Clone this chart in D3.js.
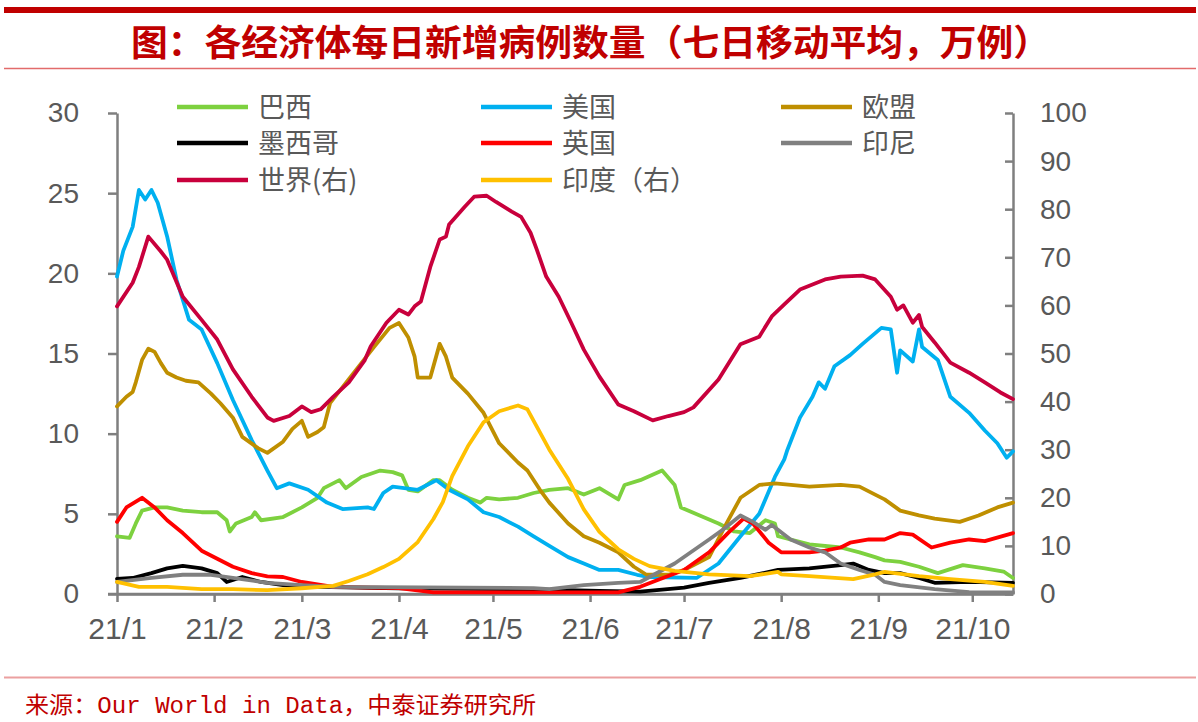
<!DOCTYPE html>
<html>
<head>
<meta charset="utf-8">
<script src="https://cdn.jsdelivr.net/npm/d3@7"></script>
<style>
  html, body { margin: 0; padding: 0; background: #ffffff; }
  svg { display: block; }
</style>
</head>
<body>
<svg id="chart" width="1198" height="722"></svg>
<script>
// ---------- DATA (day = days after 2021-01-01; values in 万例) ----------
const titleText = "图：各经济体每日新增病例数量（七日移动平均，万例）";
const sourceText = "来源：Our World in Data，中泰证券研究所";
const monthTicks = ["2021-01-01","2021-02-01","2021-03-01","2021-04-01","2021-05-01","2021-06-01","2021-07-01","2021-08-01","2021-09-01","2021-10-01"];
const monthLabels = ["21/1","21/2","21/3","21/4","21/5","21/6","21/7","21/8","21/9","21/10"];
const leftTicks = [0, 5, 10, 15, 20, 25, 30];
const rightTicks = [0, 10, 20, 30, 40, 50, 60, 70, 80, 90, 100];

const brazil = [[0,3.6],[4,3.5],[6,4.4],[8,5.2],[12,5.4],[16,5.4],[21,5.2],[27,5.1],[32,5.1],[35,4.6],[36,3.9],[38,4.4],[43,4.8],[44,5.1],[46,4.6],[53,4.8],[59,5.4],[64,6.0],[66,6.6],[71,7.1],[73,6.6],[78,7.3],[84,7.7],[88,7.6],[91,7.4],[93,6.5],[96,6.4],[101,7.1],[103,7.1],[107,6.5],[112,6.0],[116,5.7],[118,6.0],[122,5.9],[128,6.0],[133,6.3],[138,6.5],[144,6.6],[149,6.2],[154,6.6],[160,5.9],[162,6.8],[167,7.1],[174,7.7],[178,6.8],[180,5.4],[186,4.9],[192,4.4],[197,3.9],[202,3.8],[207,4.6],[210,4.4],[211,3.6],[221,3.1],[231,2.9],[237,2.6],[242,2.3],[245,2.1],[250,2.0],[256,1.7],[262,1.3],[270,1.8],[277,1.6],[283,1.4],[286,1.0]];
const usa = [[0,19.8],[2,21.4],[5,22.9],[7,25.2],[9,24.6],[11,25.2],[13,24.4],[16,22.3],[19,19.6],[23,17.1],[27,16.5],[32,14.4],[37,12.1],[43,9.6],[48,7.7],[51,6.6],[55,6.9],[61,6.5],[67,5.7],[72,5.3],[80,5.4],[82,5.3],[85,6.3],[88,6.7],[96,6.5],[102,7.1],[106,6.5],[112,5.9],[117,5.1],[122,4.8],[128,4.2],[133,3.6],[138,3.0],[144,2.3],[149,1.9],[154,1.5],[160,1.5],[166,1.2],[170,1.06],[185,1.0],[192,1.9],[199,3.6],[205,5.0],[210,7.3],[213,8.4],[214,9.0],[218,11.0],[222,12.3],[224,13.2],[226,12.8],[229,14.2],[234,14.9],[238,15.6],[244,16.6],[247,16.5],[249,13.8],[250,15.2],[254,14.5],[256,16.5],[257,15.4],[262,14.6],[266,12.3],[272,11.3],[277,10.2],[281,9.4],[284,8.5],[286,8.9]];
const eu = [[0,11.7],[3,12.3],[5,12.6],[6,13.2],[8,14.6],[10,15.3],[12,15.1],[14,14.4],[16,13.8],[19,13.5],[22,13.3],[26,13.2],[30,12.5],[33,11.9],[37,11.0],[40,9.8],[45,9.1],[48,8.8],[53,9.5],[56,10.3],[59,10.8],[61,9.8],[64,10.1],[66,10.4],[68,11.9],[72,12.9],[78,14.4],[82,15.4],[87,16.6],[90,16.9],[93,16.0],[95,14.8],[96,13.5],[100,13.5],[103,15.6],[105,14.8],[107,13.5],[112,12.5],[117,11.3],[122,9.4],[128,8.2],[131,7.7],[135,6.5],[138,5.7],[144,4.4],[149,3.6],[154,3.2],[160,2.6],[165,1.7],[169,1.2],[176,1.2],[181,1.5],[189,2.3],[194,4.2],[199,6.0],[205,6.8],[210,6.9],[221,6.7],[231,6.8],[237,6.7],[242,6.2],[245,5.9],[250,5.2],[256,4.9],[261,4.7],[269,4.5],[275,4.9],[281,5.4],[286,5.7]];
const mexico = [[0,0.94],[5,1.0],[11,1.3],[16,1.6],[21,1.75],[27,1.6],[32,1.3],[35,0.75],[40,1.06],[46,0.75],[53,0.56],[64,0.44],[90,0.35],[130,0.3],[154,0.2],[167,0.15],[181,0.4],[189,0.7],[199,1.0],[211,1.5],[221,1.6],[231,1.8],[235,1.9],[240,1.5],[245,1.3],[250,1.3],[256,1.0],[261,0.7],[272,0.75],[286,0.7]];
const uk = [[0,4.5],[3,5.4],[8,6.0],[12,5.4],[16,4.6],[21,3.8],[27,2.7],[32,2.2],[37,1.7],[43,1.3],[48,1.1],[53,1.06],[59,0.75],[69,0.44],[90,0.37],[101,0.1],[160,0.1],[167,0.45],[173,0.9],[181,1.5],[189,2.6],[195,3.8],[200,4.7],[203,4.4],[208,3.2],[212,2.6],[221,2.6],[226,2.7],[231,2.9],[234,3.2],[240,3.4],[245,3.4],[250,3.8],[254,3.7],[260,2.9],[266,3.2],[272,3.4],[277,3.3],[286,3.8]];
const indonesia = [[0,0.75],[11,1.0],[21,1.2],[30,1.2],[37,1.0],[48,0.7],[59,0.56],[69,0.44],[133,0.37],[138,0.3],[149,0.56],[160,0.7],[167,0.75],[178,1.9],[189,3.4],[194,4.1],[199,4.9],[203,4.5],[207,4.0],[209,4.3],[215,3.4],[221,2.9],[226,2.6],[231,1.9],[237,1.5],[242,1.2],[245,0.75],[250,0.56],[261,0.3],[272,0.12],[286,0.1]];
const world = [[0,59.8],[5,64.7],[7,68],[10,74.3],[14,71.2],[16,69.5],[21,61.8],[27,57],[32,52.9],[37,46.7],[43,41],[48,36.7],[50,36],[55,37],[59,39],[62,37.8],[65,38.4],[69,41],[74,44],[79,48.5],[81,51.5],[86,56.4],[90,59.1],[93,58.1],[95,59.8],[97,60.8],[100,68],[103,73.7],[105,74.3],[106,76.8],[111,80.5],[114,82.6],[118,82.8],[121,81.5],[126,79.5],[129,78.4],[132,75.1],[134,71.6],[137,66],[141,61.8],[145,56.4],[149,50.8],[154,45.2],[160,39.4],[165,38],[171,36.1],[176,37],[181,37.8],[184,38.8],[192,44.6],[199,51.9],[205,53.5],[209,57.7],[213,60.2],[218,63.3],[226,65.4],[231,66],[238,66.2],[242,65.4],[247,61.8],[249,59.1],[251,60],[254,56.4],[256,58],[257,55.5],[261,52.3],[266,48.1],[272,46],[277,44],[282,41.9],[286,40.5]];
const india = [[0,2.5],[7,1.5],[16,1.5],[27,1.0],[37,1.0],[48,0.8],[59,1.2],[69,1.7],[74,2.7],[80,4.1],[85,5.6],[90,7.3],[96,10.8],[101,15.6],[104,19.1],[107,24.5],[112,30.7],[117,35.7],[122,38],[128,39.2],[131,38.4],[135,33.6],[138,30],[144,23.9],[149,17.6],[154,12.9],[160,9.3],[165,7.3],[170,5.8],[178,4.8],[189,4.1],[202,3.7],[211,4.6],[212,4.1],[221,3.7],[235,3.1],[242,4.1],[245,4.6],[256,3.7],[266,3.1],[277,2.5],[286,1.7]];

const seriesNames = ["巴西","美国","欧盟","墨西哥","英国","印尼","世界(右)","印度（右）"];
const seriesData = [brazil, usa, eu, mexico, uk, indonesia, world, india];
const seriesAxis = ["left","left","left","left","left","left","right","right"];
const seriesColors = ["#7DD13F","#00B0F0","#BF8F00","#000000","#FF0000","#808080","#C8003C","#FFC000"];

// ---------- LAYOUT ----------
const svg = d3.select("#chart");
const W = 1198, H = 722;
const plot = { left: 117, right: 1013, top: 113, bottom: 594 };
const start = new Date(2021, 0, 1);
const dayToDate = d => d3.timeDay.offset(start, d);

const x = d3.scaleTime().domain([start, new Date(2021, 9, 14)]).range([plot.left, plot.right]);
const yL = d3.scaleLinear().domain([0, 30]).range([plot.bottom, plot.top]);
const yR = d3.scaleLinear().domain([0, 100]).range([plot.bottom, plot.top]);

svg.append("rect").attr("width", W).attr("height", H).attr("fill", "#ffffff");

// header / footer rules
svg.append("rect").attr("x", 4).attr("y", 7).attr("width", W - 6).attr("height", 6).attr("fill", "#C00000");
svg.append("line").attr("x1", 4).attr("x2", W - 2).attr("y1", 68.5).attr("y2", 68.5).attr("stroke", "#E26B6B").attr("stroke-width", 1.5);
svg.append("line").attr("x1", 4).attr("x2", W - 2).attr("y1", 677.5).attr("y2", 677.5).attr("stroke", "#EBA0A0").attr("stroke-width", 2);

svg.append("text")
  .attr("x", 131).attr("y", 56)
  .attr("font-family", "'Noto Sans CJK SC', sans-serif")
  .attr("font-weight", 700)
  .attr("font-size", 36)
  .attr("fill", "#C00000")
  .attr("textLength", 919).attr("lengthAdjust", "spacingAndGlyphs")
  .text(titleText);

svg.append("text")
  .attr("x", 25).attr("y", 713)
  .attr("font-family", "'Liberation Mono', 'Noto Sans CJK SC', monospace")
  .attr("font-size", 23)
  .attr("fill", "#C00000")
  .attr("textLength", 511).attr("lengthAdjust", "spacingAndGlyphs")
  .text(sourceText);

// ---------- AXES ----------
const axisColor = "#7F7F7F";
const labelColor = "#595959";

function styleAxis(g, fontSize) {
  g.selectAll("path.domain").attr("stroke", axisColor).attr("stroke-width", 2.5);
  g.selectAll(".tick line").attr("stroke", axisColor).attr("stroke-width", 2.5);
  g.selectAll(".tick text").attr("fill", labelColor)
    .attr("font-family", "'Liberation Sans', Arial, sans-serif")
    .attr("font-size", fontSize);
}

const gL = svg.append("g").attr("transform", `translate(${plot.left},0)`)
  .call(d3.axisLeft(yL).tickValues(leftTicks).tickSize(9).tickSizeOuter(0).tickPadding(29).tickFormat(d3.format("d")));
styleAxis(gL, 28);

const gR = svg.append("g").attr("transform", `translate(${plot.right},0)`)
  .call(d3.axisRight(yR).tickValues(rightTicks).tickSize(-8).tickSizeOuter(0).tickPadding(27).tickFormat(d3.format("d")));
styleAxis(gR, 28);

const tickDates = monthTicks.map(s => d3.timeParse("%Y-%m-%d")(s));
const gX = svg.append("g").attr("transform", `translate(0,${plot.bottom})`)
  .call(d3.axisBottom(x).tickValues(tickDates).tickSize(8).tickSizeOuter(0).tickPadding(16)
    .tickFormat((d, i) => monthLabels[i]));
styleAxis(gX, 30);
svg.append("line").attr("x1", plot.left - 9).attr("x2", plot.right).attr("y1", plot.bottom).attr("y2", plot.bottom)
  .attr("stroke", axisColor).attr("stroke-width", 2.5);

// ---------- LINES ----------
const lines = svg.append("g");
seriesData.forEach((data, i) => {
  const yy = seriesAxis[i] === "left" ? yL : yR;
  const gen = d3.line().x(d => x(dayToDate(d[0]))).y(d => yy(d[1])).curve(d3.curveLinear);
  lines.append("path")
    .datum(data)
    .attr("d", gen)
    .attr("fill", "none")
    .attr("stroke", seriesColors[i])
    .attr("stroke-width", 3.8)
    .attr("stroke-linejoin", "round")
    .attr("stroke-linecap", "round");
});

// ---------- LEGEND ----------
const legendCols = [177, 481, 781];
const legendRows = [107, 143, 180];
const legendOrder = [[0,1,2],[3,4,5],[6,7]];
const legend = svg.append("g");
legendOrder.forEach((row, r) => {
  row.forEach((si, c) => {
    const lx = legendCols[c], ly = legendRows[r];
    legend.append("line").attr("x1", lx).attr("x2", lx + 71).attr("y1", ly).attr("y2", ly)
      .attr("stroke", seriesColors[si]).attr("stroke-width", 4.5);
    legend.append("text").attr("x", lx + 81).attr("y", ly + 10)
      .attr("font-family", "'Noto Sans CJK SC', sans-serif")
      .attr("font-size", 27)
      .attr("fill", labelColor)
      .text(seriesNames[si]);
  });
});
</script>
</body>
</html>
